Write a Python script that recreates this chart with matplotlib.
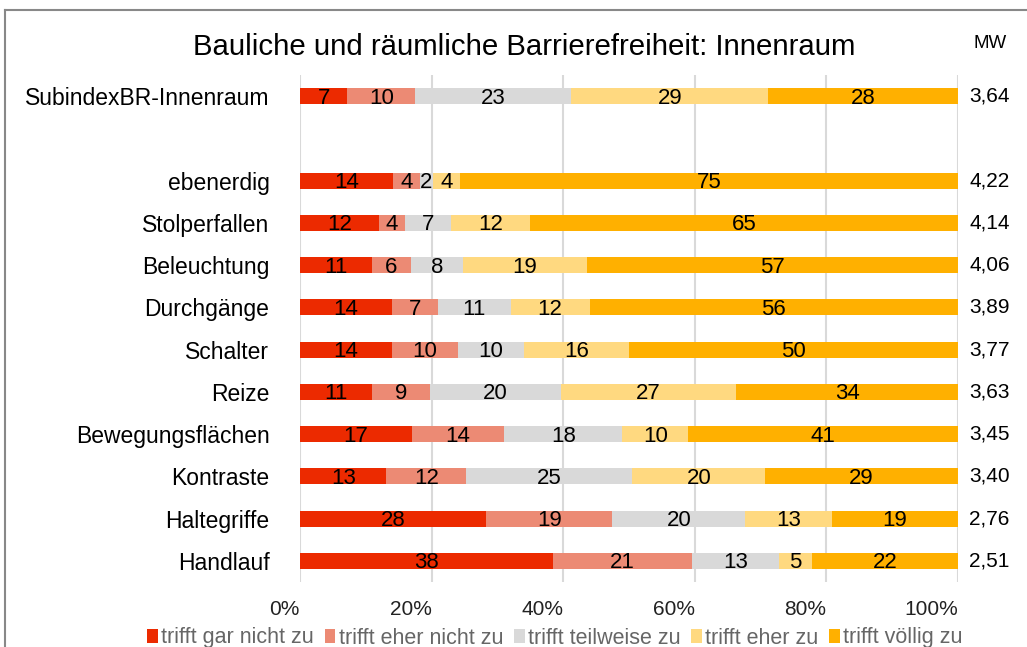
import matplotlib.pyplot as plt
import numpy as np
from matplotlib.lines import Line2D

plt.rcParams['font.family'] = ['Liberation Sans', 'DejaVu Sans']

categories = ['SubindexBR-Innenraum', 'ebenerdig', 'Stolperfallen', 'Beleuchtung',
              'Durchgänge', 'Schalter', 'Reize', 'Bewegungsflächen', 'Kontraste',
              'Haltegriffe', 'Handlauf']
gar_nicht = [7, 14, 12, 11, 14, 14, 11, 17, 13, 28, 38]
eher_nicht = [10, 4, 4, 6, 7, 10, 9, 14, 12, 19, 21]
teilweise = [23, 2, 7, 8, 11, 10, 20, 18, 25, 20, 13]
eher = [29, 4, 12, 19, 12, 16, 27, 10, 20, 13, 5]
voellig = [28, 75, 65, 57, 56, 50, 34, 41, 29, 19, 22]
mw = ['3,64', '4,22', '4,14', '4,06', '3,89', '3,77', '3,63', '3,45', '3,40', '2,76', '2,51']
positions = [11, 9, 8, 7, 6, 5, 4, 3, 2, 1, 0]

series = [gar_nicht, eher_nicht, teilweise, eher, voellig]
names = ['trifft gar nicht zu', 'trifft eher nicht zu', 'trifft teilweise zu',
         'trifft eher zu', 'trifft völlig zu']
colors = ['#EC2A00', '#EC8A74', '#D9D9D9', '#FFD980', '#FFB000']

data = np.array(series, dtype=float)
shares = data / data.sum(axis=0) * 100

fig = plt.figure(figsize=(10.27, 6.47), dpi=100)
ax = fig.add_axes([300/1027, 1-582/647, 658/1027, 507/647])

left = np.zeros(len(categories))
for vals, share, name, col in zip(series, shares, names, colors):
    ax.barh(positions, share, left=left, height=0.38, color=col, label=name, zorder=2)
    for p, l, s, v in zip(positions, left, share, vals):
        ax.text(l + s/2, p - 0.05, str(v), ha='center', va='center', fontsize=16, color='black', zorder=3)
    left = left + share

ax.set_xlim(0, 100)
ax.set_ylim(-0.5, 11.5)
ax.set_yticks(positions)
ax.set_yticklabels(categories, fontsize=16.5)
ax.set_xticks([0, 20, 40, 60, 80, 100])
ax.set_xticklabels(['0%', '20%', '40%', '60%', '80%', '100%'], fontsize=15, ha='right', color='#222222')
ax.tick_params(axis='both', length=0)
ax.tick_params(axis='x', pad=13)
ax.tick_params(axis='y', pad=22)
for s in ax.spines.values():
    s.set_visible(False)
ax.grid(axis='x', color='#D9D9D9', linewidth=1.5, zorder=0)

for p, m in zip(positions, mw):
    ax.text(1.017, p, m, transform=ax.get_yaxis_transform(), ha='left', va='center', fontsize=15)
fig.text(990/1027, 1-44/647, 'MW', ha='center', va='center', fontsize=13.5)

fig.text(524/1027, 1-47/647, 'Bauliche und räumliche Barrierefreiheit: Innenraum',
         ha='center', va='center', fontsize=21.2)

ax.legend(loc='center', bbox_to_anchor=(555/1027, 1-638/647), bbox_transform=fig.transFigure,
          ncol=5, frameon=False, fontsize=15.5, handlelength=0.5, handleheight=0.6,
          handletextpad=0.15, columnspacing=0.5, labelcolor='#666666')

fig.add_artist(Line2D([5/1027, 1], [1-10/647, 1-10/647], color='#888888', linewidth=1.5))
fig.add_artist(Line2D([5/1027, 5/1027], [0, 1-10/647], color='#888888', linewidth=1.5))

fig.savefig('out.png', dpi=100)
